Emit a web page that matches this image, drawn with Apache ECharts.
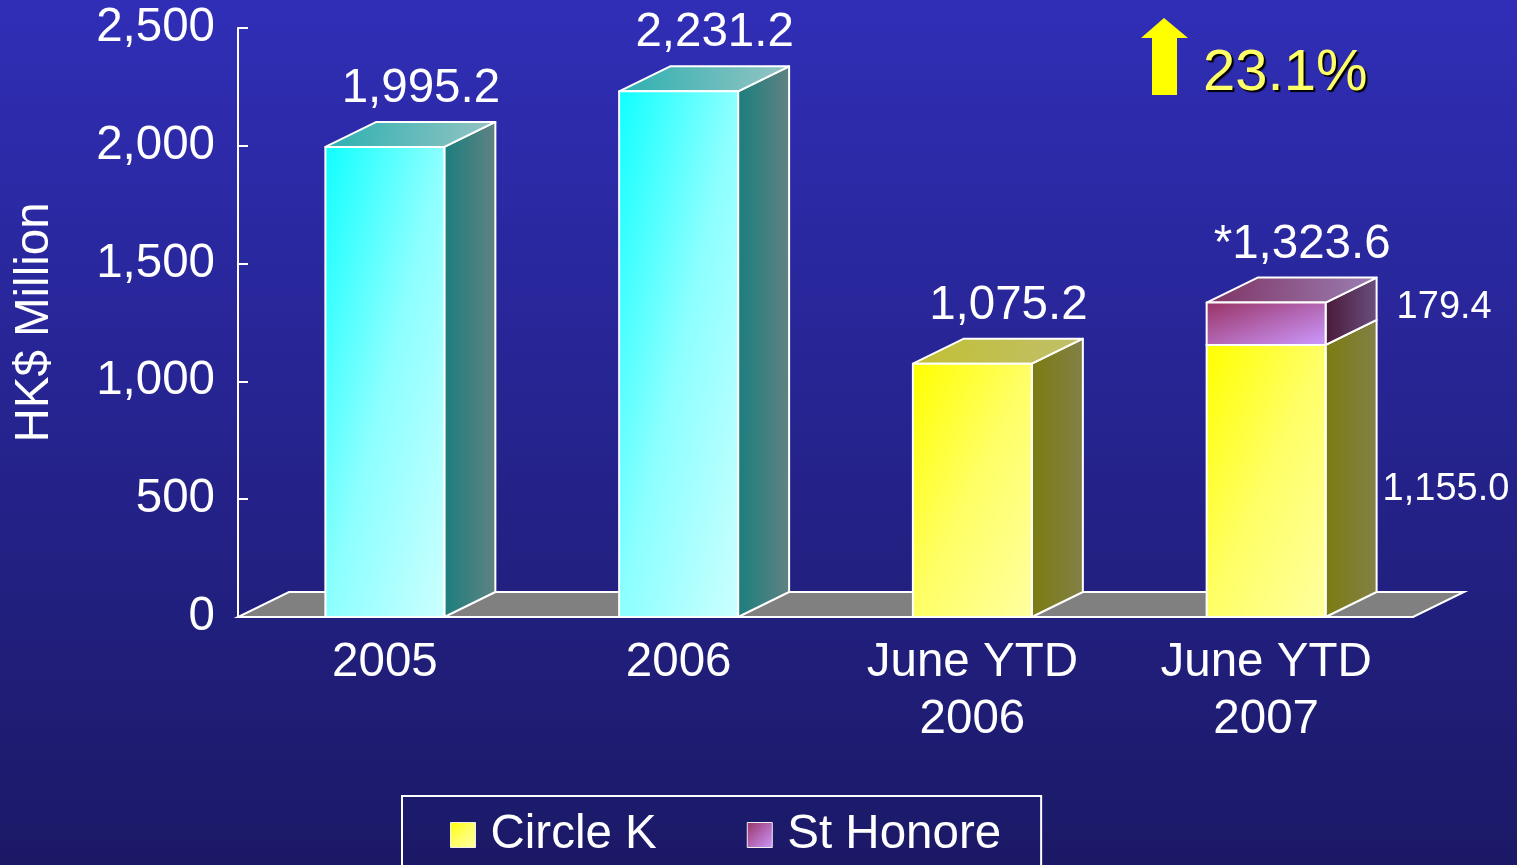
<!DOCTYPE html>
<html>
<head>
<meta charset="utf-8">
<script src="https://cdn.jsdelivr.net/npm/echarts@6/dist/echarts.min.js"></script>
<style>
  html, body { margin: 0; padding: 0; background: #1c1a68; }
  #chart { width: 1517px; height: 865px; }
</style>
</head>
<body>
<div id="chart"></div>
<script>
// data
const categories = ['2005', '2006', 'June YTD\n2006', 'June YTD\n2007'];
const totalSales = [1995.2, 2231.2, null, null];
const circleK = [null, null, 1075.2, 1155.0];
const stHonore = [null, null, null, 179.4];
const topLabels = ['1,995.2', '2,231.2', '1,075.2', '*1,323.6'];
const circleKSide = [null, null, null, '1,155.0'];
const stHonoreSide = [null, null, null, '179.4'];
const yTicks = [0, 500, 1000, 1500, 2000, 2500];

const FONT = '"Liberation Sans", Arial, sans-serif';
const FS = 47.5;             // main text size
const DX = 51, DY = -25;     // depth of the 3d boxes
const BAR_RATIO = 0.405;

const LG = echarts.graphic.LinearGradient;

const palettes = {
  cyan: {
    front: [{offset: 0, color: '#10FFFF'}, {offset: 0.5, color: '#8CFFFF'}, {offset: 1, color: '#CCFFFF'}],
    side: [{offset: 0, color: '#1A7E7E'}, {offset: 1, color: '#628282'}],
    top: [{offset: 0, color: '#2AB0B0'}, {offset: 1, color: '#98C4C4'}]
  },
  yellow: {
    front: [{offset: 0, color: '#FFFF00'}, {offset: 0.5, color: '#FFFF66'}, {offset: 1, color: '#FFFFA0'}],
    side: [{offset: 0, color: '#7C7C10'}, {offset: 1, color: '#828048'}],
    top: [{offset: 0, color: '#C2C032'}, {offset: 1, color: '#C0BF6C'}]
  },
  purple: {
    front: [{offset: 0, color: '#993366'}, {offset: 1, color: '#CC99FF'}],
    side: [{offset: 0, color: '#4A1838'}, {offset: 1, color: '#6A5080'}],
    top: [{offset: 0, color: '#7E3262'}, {offset: 1, color: '#9C80B4'}]
  }
};

// [categoryIndex, low, high, sideLabel]
function boxData(values, base, side) {
  const out = [];
  values.forEach((v, i) => {
    if (v == null) return;
    const lo = base ? (base[i] || 0) : 0;
    out.push([i, lo, lo + v, side ? side[i] : null]);
  });
  return out;
}

function makeBox(pal, labelOffset) {
  return function (params, api) {
    const i = api.value(0);
    const lo = api.value(1), hi = api.value(2);
    const band = api.size([1, 0])[0];
    const w = band * BAR_RATIO;
    const cx = api.coord([i, 0])[0];
    const yB = api.coord([i, lo])[1];
    const yT = api.coord([i, hi])[1];
    const xL = cx - w / 2, xR = cx + w / 2;
    const h = yB - yT;
    const lam = 2 / (1 / (w * w) + 1 / (h * h));
    const line = {stroke: '#fff', lineWidth: 2, lineJoin: 'round'};
    const children = [
      {
        type: 'polygon',
        shape: {points: [[xR, yT], [xR + DX, yT + DY], [xR + DX, yB + DY], [xR, yB]]},
        style: Object.assign({fill: new LG(0, 0, 1, 0, pal.side)}, line)
      },
      {
        type: 'polygon',
        shape: {points: [[xL, yT], [xL + DX, yT + DY], [xR + DX, yT + DY], [xR, yT]]},
        style: Object.assign({fill: new LG(0, 0, 1, 1, pal.top)}, line)
      },
      {
        type: 'polygon',
        shape: {points: [[xL, yT], [xR, yT], [xR, yB], [xL, yB]]},
        style: Object.assign({fill: new LG(xL, yT, xL + lam / w, yT + lam / h, pal.front, true)}, line)
      }
    ];
    const side = api.value(3);
    if (side && labelOffset) {
      children.push({
        type: 'text',
        style: {
          text: String(side),
          x: xR + DX + labelOffset[0],
          y: (yT + yB) / 2 + DY / 2 + labelOffset[1],
          align: 'left', verticalAlign: 'middle',
          fill: '#fff', fontSize: 38, fontFamily: FONT
        }
      });
    }
    return {type: 'group', children: children};
  };
}

const totals = categories.map((c, i) => (totalSales[i] || 0) + (circleK[i] || 0) + (stHonore[i] || 0));

const chart = echarts.init(document.getElementById('chart'));
chart.setOption({
  animation: false,
  graphic: [
    {
      type: 'rect', z: -10, silent: true,
      shape: {x: 0, y: 0, width: 1517, height: 865},
      style: {fill: new LG(0, 0, 0, 1, [{offset: 0, color: '#302EB6'}, {offset: 1, color: '#1B1966'}])}
    },
    {
      type: 'polygon', z: 10,
      shape: {points: [[1141, 38], [1164, 18], [1188, 38], [1177, 38], [1177, 95], [1152, 95], [1152, 38]]},
      style: {fill: '#FFFF00'}
    },
    {
      type: 'text', z: 10, left: 1203, top: 45,
      style: {
        text: '23.1%', fill: '#FFFF66', fontSize: 58, fontFamily: FONT,
        shadowColor: '#000', shadowOffsetX: 2, shadowOffsetY: 2, shadowBlur: 1,
        textShadowColor: '#000', textShadowOffsetX: 2, textShadowOffsetY: 2, textShadowBlur: 1
      }
    }
  ],
  grid: {left: 238, right: 104, top: 28, bottom: 248},
  legend: {
    left: 402, top: 796,
    padding: [15, 40, 40, 48],
    itemGap: 90, itemWidth: 25, itemHeight: 25,
    borderColor: '#fff', borderWidth: 2,
    textStyle: {color: '#fff', fontSize: FS, fontFamily: FONT, padding: [0, 0, 0, 10]},
    data: [
      {name: 'Circle K', icon: 'rect', itemStyle: {color: new LG(0, 0, 1, 1, palettes.yellow.front), borderColor: '#eee', borderWidth: 1}},
      {name: 'St Honore', icon: 'rect', itemStyle: {color: new LG(0, 0, 1, 1, palettes.purple.front), borderColor: '#eee', borderWidth: 1}}
    ]
  },
  xAxis: {
    type: 'category',
    data: categories,
    z: 3,
    axisLine: {lineStyle: {color: '#fff', width: 2}},
    axisTick: {inside: true, length: 10, lineStyle: {color: '#fff', width: 2}},
    axisLabel: {color: '#fff', fontSize: FS, fontFamily: FONT, lineHeight: 57, margin: 17}
  },
  yAxis: {
    type: 'value',
    min: yTicks[0], max: yTicks[yTicks.length - 1], interval: 500,
    name: 'HK$ Million',
    nameLocation: 'middle',
    nameRotate: 90,
    nameGap: 179,
    nameTextStyle: {color: '#fff', fontSize: FS, fontFamily: FONT},
    axisLine: {show: true, lineStyle: {color: '#fff', width: 2}},
    axisTick: {show: true, inside: true, length: 10, lineStyle: {color: '#fff', width: 2}},
    splitLine: {show: false},
    axisLabel: {
      color: '#fff', fontSize: FS, fontFamily: FONT, margin: 23,
      formatter: v => v.toLocaleString('en-US')
    }
  },
  series: [
    {
      name: 'floor', type: 'custom', z: 1, silent: true, clip: false,
      data: [[0, 0]],
      encode: {x: 0, y: 1},
      renderItem: function (params, api) {
        const cs = params.coordSys;
        const y0 = api.coord([0, 0])[1];
        const x0 = cs.x, x1 = cs.x + cs.width;
        return {
          type: 'polygon',
          shape: {points: [[x0, y0], [x1, y0], [x1 + DX, y0 + DY], [x0 + DX, y0 + DY]]},
          style: {fill: '#808080', stroke: '#fff', lineWidth: 2}
        };
      }
    },
    {
      name: 'Total', type: 'custom', z: 2, clip: false,
      data: boxData(totalSales),
      encode: {x: 0, y: 2},
      itemStyle: {color: '#40FFFF'},
      renderItem: makeBox(palettes.cyan)
    },
    {
      name: 'Circle K', type: 'custom', z: 2, clip: false,
      data: boxData(circleK, null, circleKSide),
      encode: {x: 0, y: 2},
      itemStyle: {color: '#FFFF40'},
      renderItem: makeBox(palettes.yellow, [6, 21])
    },
    {
      name: 'St Honore', type: 'custom', z: 2, clip: false,
      data: boxData(stHonore, circleK, stHonoreSide),
      encode: {x: 0, y: 2},
      itemStyle: {color: '#B070C0'},
      renderItem: makeBox(palettes.purple, [20, -4])
    },
    {
      name: 'labels', type: 'custom', z: 4, silent: true, clip: false,
      data: totals.map((t, i) => [i, t]),
      encode: {x: 0, y: 1},
      renderItem: function (params, api) {
        const i = api.value(0);
        const p = api.coord([i, api.value(1)]);
        return {
          type: 'text',
          style: {
            text: topLabels[i],
            x: p[0] + 36, y: p[1] + DY - 33,
            align: 'center', verticalAlign: 'middle',
            fill: '#fff', fontSize: FS, fontFamily: FONT
          }
        };
      }
    }
  ]
});
</script>
</body>
</html>
